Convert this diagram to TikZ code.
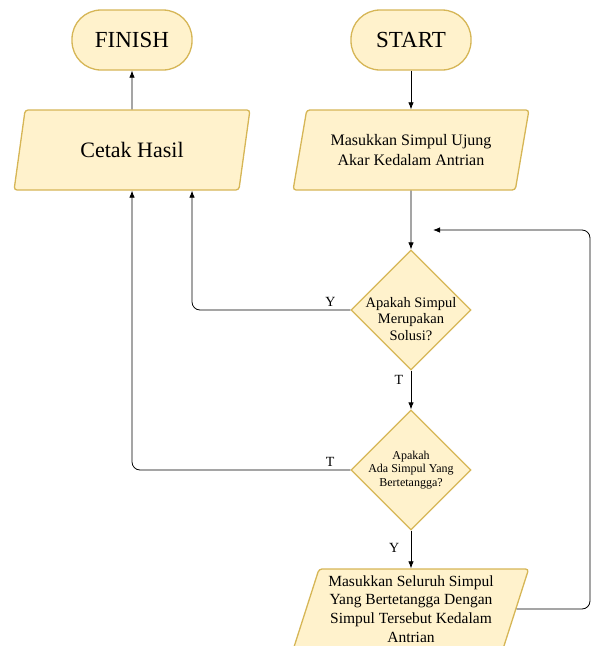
\documentclass[tikz,border=0pt]{standalone}
\usepackage{fontspec}
\setmainfont{Liberation Serif}
\usetikzlibrary{shapes,arrows.meta,positioning}
\definecolor{boxfill}{HTML}{FFF2CC}
\definecolor{boxline}{HTML}{D6B656}
\tikzstyle{terminal}=[rectangle,rounded corners=29pt,fill=boxfill,draw=boxline,line width=1.3pt,minimum width=120pt,minimum height=60pt,inner sep=0pt,font=\fontsize{23}{27}\selectfont]
\tikzstyle{io}=[trapezium,trapezium left angle=71,trapezium right angle=109,trapezium stretches=true,fill=boxfill,draw=boxline,line width=1.3pt,rounded corners=3pt,minimum width=236pt,minimum height=80pt,inner sep=0pt,align=center]
\tikzstyle{decision}=[diamond,fill=boxfill,draw=boxline,line width=1.3pt,minimum width=120pt,minimum height=120pt,inner sep=0pt]
\tikzstyle{flow}=[->,>={Latex[length=7pt,width=5.5pt]},line width=0.8pt]
\tikzstyle{answer}=[font=\fontsize{14}{16}\selectfont]

\begin{document}
\begin{tikzpicture}[x=1pt,y=-1pt]
\useasboundingbox (0,0) rectangle (592,646);

%Shapes
    \node[terminal] (finish) at (132,40) {FINISH};
    \node[terminal] (start) at (411,40) {START};
    \node[io,font=\fontsize{22}{26}\selectfont] (cetak) at (132,150) {Cetak Hasil};
    \node[io,font=\fontsize{16}{19.3}\selectfont] (masuk) at (411,150) {Masukkan Simpul Ujung\\Akar Kedalam Antrian};
    \node[decision,label={[font=\fontsize{14.5}{16.3}\selectfont,align=center,yshift=-9pt]center:Apakah Simpul\\Merupakan\\Solusi?}] (solusi) at (411,310) {};
    \node[decision,label={[font=\fontsize{12}{13.5}\selectfont,align=center]center:Apakah\\Ada Simpul Yang\\Bertetangga?}] (tetangga) at (411,470) {};
    \node[io,font=\fontsize{15.5}{18.7}\selectfont] (simpan) at (411,609) {Masukkan Seluruh Simpul\\Yang Bertetangga Dengan\\Simpul Tersebut Kedalam\\Antrian};
    \coordinate (balik) at (433,230);
    \coordinate (kanan) at (590,230);

%Arrows
    \foreach \source/\dest in {start/masuk, cetak/finish, masuk/solusi}
        \draw[flow] (\source) -- (\dest);
    \draw[flow] (solusi) -- node[answer,left=4pt,pos=0.25] {T} (tetangga);
    \draw[flow] (tetangga) -- node[answer,left=8pt,pos=0.46] {Y} (simpan);
    \draw[flow,rounded corners=8pt] (solusi.west) -| node[answer,above,pos=0.063] {Y} ([xshift=60pt]cetak.south);
    \draw[flow,rounded corners=8pt] (tetangga.west) -| node[answer,above,pos=0.046] {T} (cetak.south);
    \draw[flow,rounded corners=8pt] (simpan.east) -| (kanan) -- (balik);

\end{tikzpicture}
\end{document}
